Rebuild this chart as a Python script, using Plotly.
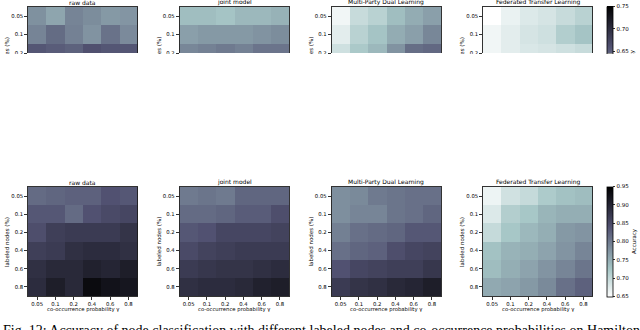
import plotly.graph_objects as go

W, H = 640, 330

# ---------------- data ----------------
gamma_labels = ["0.05", "0.1", "0.2", "0.4", "0.6", "0.8"]
labeled_labels = ["0.05", "0.1", "0.2", "0.4", "0.6", "0.8"]
top_rows = ["0.05", "0.1", "0.2"]          # only rows visible in the cropped upper figure
titles = ["raw data", "joint model", "Multi-Party Dual Learning", "Federated Transfer Learning"]
caption = ("Fig. 12: Accuracy of node classification with different labeled nodes "
           "and co-occurrence probabilities on Hamilton")

top_raw = [
    [0.607, 0.590, 0.617, 0.610, 0.600, 0.603],
    [0.617, 0.637, 0.620, 0.605, 0.632, 0.612],
    [0.655, 0.650, 0.645, 0.660, 0.655, 0.655],
]
top_joint = [
    [0.570, 0.570, 0.565, 0.575, 0.575, 0.580],
    [0.595, 0.600, 0.600, 0.600, 0.605, 0.610],
    [0.615, 0.620, 0.625, 0.620, 0.630, 0.630],
]
top_mpdl = [
    [0.510, 0.540, 0.550, 0.570, 0.585, 0.595],
    [0.520, 0.550, 0.565, 0.585, 0.595, 0.615],
    [0.535, 0.560, 0.575, 0.605, 0.635, 0.640],
]
top_ftl = [
    [0.500, 0.515, 0.525, 0.530, 0.540, 0.550],
    [0.510, 0.520, 0.530, 0.535, 0.555, 0.565],
    [0.510, 0.520, 0.527, 0.530, 0.535, 0.540],
]

bot_raw = [
    [0.815, 0.820, 0.825, 0.825, 0.840, 0.835],
    [0.835, 0.835, 0.815, 0.840, 0.850, 0.855],
    [0.845, 0.865, 0.870, 0.870, 0.870, 0.880],
    [0.865, 0.870, 0.885, 0.890, 0.890, 0.885],
    [0.885, 0.895, 0.895, 0.905, 0.900, 0.910],
    [0.890, 0.910, 0.895, 0.935, 0.925, 0.920],
]
bot_joint = [
    [0.800, 0.805, 0.800, 0.820, 0.820, 0.820],
    [0.815, 0.815, 0.820, 0.830, 0.830, 0.845],
    [0.835, 0.840, 0.855, 0.855, 0.855, 0.860],
    [0.850, 0.860, 0.865, 0.870, 0.870, 0.870],
    [0.870, 0.875, 0.880, 0.880, 0.885, 0.890],
    [0.885, 0.890, 0.890, 0.895, 0.905, 0.910],
]
bot_mpdl = [
    [0.780, 0.785, 0.800, 0.805, 0.810, 0.810],
    [0.780, 0.790, 0.790, 0.805, 0.810, 0.820],
    [0.795, 0.810, 0.815, 0.820, 0.835, 0.835],
    [0.810, 0.820, 0.825, 0.845, 0.855, 0.860],
    [0.840, 0.855, 0.860, 0.865, 0.865, 0.875],
    [0.870, 0.880, 0.885, 0.895, 0.900, 0.910],
]
bot_ftl = [
    [0.665, 0.690, 0.700, 0.720, 0.730, 0.735],
    [0.680, 0.715, 0.725, 0.743, 0.750, 0.750],
    [0.700, 0.725, 0.740, 0.750, 0.770, 0.775],
    [0.730, 0.745, 0.750, 0.760, 0.775, 0.790],
    [0.735, 0.750, 0.760, 0.775, 0.790, 0.805],
    [0.755, 0.760, 0.770, 0.785, 0.810, 0.825],
]

top_range = (0.50, 0.75)
bot_range = (0.65, 0.95)
top_cbar_visible = (0.645, 0.75)

# ---------------- colormap (matplotlib bone_r) ----------------
def _interp(pts, x):
    for (x0, y0), (x1, y1) in zip(pts[:-1], pts[1:]):
        if x <= x1:
            return y0 + (y1 - y0) * (x - x0) / (x1 - x0)
    return pts[-1][1]

def bone(x):
    r = _interp([(0, 0), (0.746032, 0.652778), (1, 1)], x)
    g = _interp([(0, 0), (0.365079, 0.319444), (0.746032, 0.777778), (1, 1)], x)
    b = _interp([(0, 0), (0.365079, 0.444444), (1, 1)], x)
    return "rgb(%d,%d,%d)" % (round(r * 255), round(g * 255), round(b * 255))

def bone_r_scale(t0=0.0, t1=1.0):
    bps = [t0, t1] + [t for t in (1 - 0.746032, 1 - 0.365079) if t0 < t < t1]
    bps = sorted(set(bps))
    return [[(t - t0) / (t1 - t0), bone(1 - t)] for t in bps]

# ---------------- layout helpers ----------------
def fx(p):
    return p / W

def fy(p):
    return 1 - p / H

lefts = [28, 179.5, 331.5, 483]
pw = 109.5
bot_top, bot_bot = 187, 296
top_top, top_bot = 7, 53
font_fam = "DejaVu Sans"
tick_font = dict(family=font_fam, size=5.3, color="black")

fig = go.Figure()
layout = dict(
    template="none",
    width=W, height=H, margin=dict(l=0, r=0, t=0, b=0, autoexpand=False),
    paper_bgcolor="white", plot_bgcolor="white", showlegend=False,
)

tops = [top_raw, top_joint, top_mpdl, top_ftl]
bots = [bot_raw, bot_joint, bot_mpdl, bot_ftl]
annotations = []

for i in range(4):
    dom_x = [fx(lefts[i]), fx(lefts[i] + pw)]
    # upper (cropped) figure
    n = i + 1
    fig.add_trace(go.Heatmap(z=tops[i], x=gamma_labels, y=top_rows, coloraxis="coloraxis",
                             xaxis="x%d" % n, yaxis="y%d" % n, hoverinfo="skip"))
    layout["xaxis%d" % n] = dict(domain=dom_x, type="category", side="top", anchor="y%d" % n,
                                 showline=True, linecolor="black", linewidth=0.8, mirror=False,
                                 ticks="", showticklabels=False, showgrid=False, zeroline=False,
                                 automargin=False)
    layout["yaxis%d" % n] = dict(domain=[fy(top_bot), fy(top_top)], type="category",
                                 anchor="x%d" % n, range=[2.0, -0.5],
                                 showline=True, linecolor="black", linewidth=0.8, mirror=True,
                                 ticks="outside", ticklen=3, tickwidth=0.8, tickcolor="black",
                                 tickfont=tick_font, showgrid=False, zeroline=False,
                                 automargin=False)
    # lower figure
    m = i + 5
    fig.add_trace(go.Heatmap(z=bots[i], x=gamma_labels, y=labeled_labels, coloraxis="coloraxis2",
                             xaxis="x%d" % m, yaxis="y%d" % m, hoverinfo="skip"))
    layout["xaxis%d" % m] = dict(domain=dom_x, type="category", anchor="y%d" % m,
                                 showline=True, linecolor="black", linewidth=0.8, mirror=True,
                                 ticks="outside", ticklen=3, tickwidth=0.8, tickcolor="black",
                                 tickfont=tick_font, showgrid=False, zeroline=False,
                                 automargin=False)
    layout["yaxis%d" % m] = dict(domain=[fy(bot_bot), fy(bot_top)], type="category",
                                 anchor="x%d" % m, autorange="reversed",
                                 showline=True, linecolor="black", linewidth=0.8, mirror=True,
                                 ticks="outside", ticklen=3, tickwidth=0.8, tickcolor="black",
                                 tickfont=tick_font, showgrid=False, zeroline=False,
                                 automargin=False)

    cx = fx(lefts[i] + pw / 2)
    annotations.append(dict(text=titles[i], x=cx, y=fy(2.5), xref="paper", yref="paper",
                            showarrow=False, xanchor="center", yanchor="middle",
                            font=dict(family=font_fam, size=6, color="black")))
    annotations.append(dict(text=titles[i], x=cx, y=fy(182), xref="paper", yref="paper",
                            showarrow=False, xanchor="center", yanchor="middle",
                            font=dict(family=font_fam, size=6, color="black")))
    annotations.append(dict(text="co-occurrence probability γ", x=cx, y=fy(309.5),
                            xref="paper", yref="paper", showarrow=False,
                            xanchor="center", yanchor="middle",
                            font=dict(family=font_fam, size=5.3, color="black")))
    annotations.append(dict(text="labeled nodes (%)", x=fx(lefts[i] - 21), y=fy(242),
                            xref="paper", yref="paper", showarrow=False, textangle=-90,
                            xanchor="center", yanchor="middle",
                            font=dict(family=font_fam, size=5.5, color="black")))
    annotations.append(dict(text="labeled nodes (%)", x=fx(lefts[i] - 21), y=fy(62),
                            xref="paper", yref="paper", showarrow=False, textangle=-90,
                            xanchor="center", yanchor="middle",
                            font=dict(family=font_fam, size=5.5, color="black")))

# colour bar title of the cropped upper figure
annotations.append(dict(text="Accuracy", x=fx(633), y=fy(62), xref="paper", yref="paper",
                        showarrow=False, textangle=-90, xanchor="center", yanchor="middle",
                        font=dict(family=font_fam, size=5.5, color="black")))
# white band = the part of the page cropped away between the two figures
annotations.append(dict(text=" ", x=0.5, y=fy(53.5), xref="paper", yref="paper",
                        showarrow=False, xanchor="center", yanchor="top",
                        width=W, height=122, bgcolor="white", borderpad=0, borderwidth=0))
# caption
annotations.append(dict(text=caption, x=fx(0.5), y=fy(331), xref="paper", yref="paper",
                        showarrow=False, xanchor="left", yanchor="middle",
                        font=dict(family="Liberation Serif", size=14, color="black")))

# dummy trace to carry the (visible part of the) upper colour bar
fig.add_trace(go.Scatter(x=[gamma_labels[0]], y=[top_rows[0]], xaxis="x1", yaxis="y1",
                         mode="markers", hoverinfo="skip",
                         marker=dict(color=[0.7], coloraxis="coloraxis3", opacity=0, size=1)))

t0 = (top_cbar_visible[0] - top_range[0]) / (top_range[1] - top_range[0])
t1 = (top_cbar_visible[1] - top_range[0]) / (top_range[1] - top_range[0])

cb_common = dict(x=fx(607), xanchor="left", xpad=0, ypad=0, thickness=5.5,
                 outlinewidth=0.8, outlinecolor="black", ticks="outside", ticklen=2.5,
                 tickwidth=0.8, tickcolor="black", tickformat=".2f", dtick=0.05,
                 tickfont=dict(family=font_fam, size=5.5, color="black"))

layout["coloraxis"] = dict(cmin=top_range[0], cmax=top_range[1], colorscale=bone_r_scale(),
                           showscale=False)
layout["coloraxis2"] = dict(cmin=bot_range[0], cmax=bot_range[1], colorscale=bone_r_scale(),
                            showscale=True,
                            colorbar=dict(**cb_common, tick0=0.65, len=(bot_bot - bot_top + 1) / H,
                                          lenmode="fraction", y=fy((bot_top + bot_bot) / 2),
                                          yanchor="middle",
                                          title=dict(text="Accuracy", side="right",
                                                     font=dict(family=font_fam, size=5.5,
                                                               color="black"))))
layout["coloraxis3"] = dict(cmin=top_cbar_visible[0], cmax=top_cbar_visible[1],
                            colorscale=bone_r_scale(t0, t1), showscale=True,
                            colorbar=dict(**cb_common, tick0=0.65, len=(top_bot - top_top + 0.5) / H,
                                          lenmode="fraction", y=fy((top_top + top_bot) / 2),
                                          yanchor="middle"))
layout["annotations"] = annotations
fig.update_layout(**layout)

# the page's default body margin would offset the figure by 8 px
fig.write_html("out.html", config={"displayModeBar": False, "staticPlot": True},
               post_script="document.body.style.margin='0';")
